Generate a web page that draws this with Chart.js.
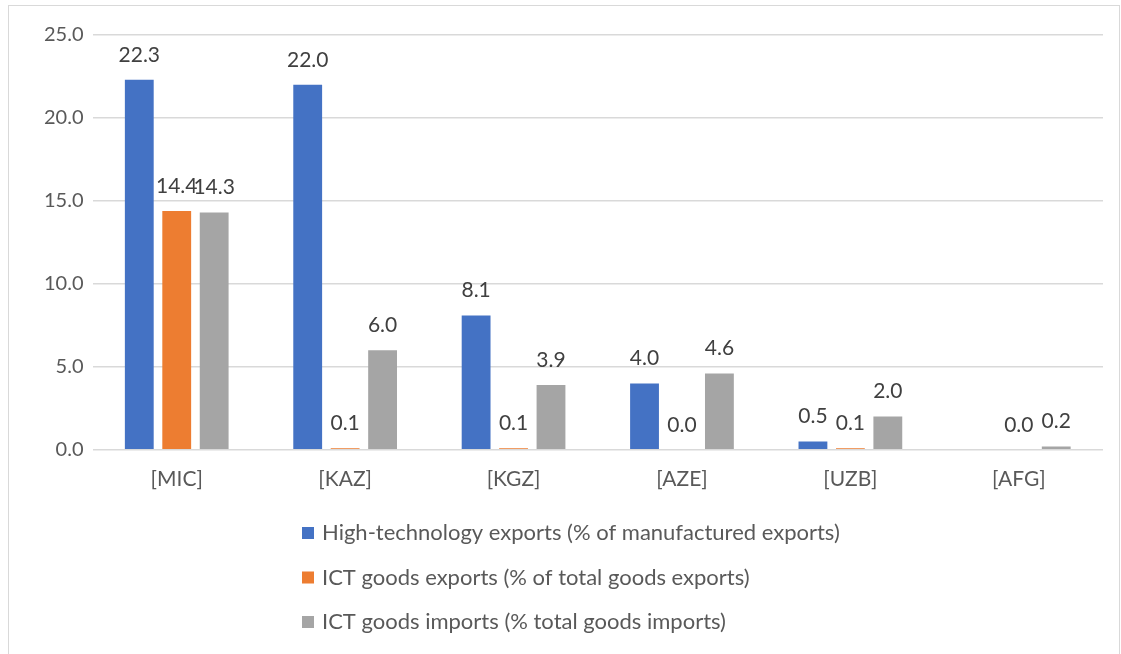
<!DOCTYPE html>
<html>
<head>
<meta charset="utf-8">
<script src="https://cdn.jsdelivr.net/npm/chart.js@4.4.1/dist/chart.umd.min.js"></script>
<style>
  body { margin: 0; background: #fff; }
  #frame { position: absolute; left: 8px; top: 5px; width: 1110px; height: 700px; border: 1px solid #d9d9d9; }
  #wrap { position: absolute; left: 0; top: 0; width: 1121px; height: 654px; }
</style>
</head>
<body>
<div id="frame"></div>
<div id="wrap"><canvas id="chart"></canvas></div>
<script>
/* data */
const categories = ["[MIC]", "[KAZ]", "[KGZ]", "[AZE]", "[UZB]", "[AFG]"];
const highTechExports = [22.3, 22.0, 8.1, 4.0, 0.5, null];
const ictExports = [14.4, 0.1, 0.1, 0.0, 0.1, 0.0];
const ictImports = [14.3, 6.0, 3.9, 4.6, 2.0, 0.2];
const yTicks = [0, 5, 10, 15, 20, 25];

const FONT = "Lato, 'Liberation Sans', sans-serif";
const TEXT = "#595959";

/* value labels above bars */
const valueLabels = {
  id: "valueLabels",
  afterDatasetsDraw(chart) {
    const ctx = chart.ctx;
    ctx.save();
    ctx.font = "21px " + FONT;
    ctx.fillStyle = "#404040";
    ctx.textAlign = "center";
    ctx.textBaseline = "middle";
    chart.data.datasets.forEach((ds, i) => {
      chart.getDatasetMeta(i).data.forEach((bar, j) => {
        const v = ds.data[j];
        if (v === null) return;
        ctx.fillText(v.toFixed(1), bar.x, bar.y - 25);
      });
    });
    ctx.restore();
  }
};

/* vertical legend under the chart */
const stackedLegend = {
  id: "stackedLegend",
  afterDraw(chart) {
    const ctx = chart.ctx;
    ctx.save();
    ctx.font = "22px " + FONT;
    ctx.textBaseline = "middle";
    chart.data.datasets.forEach((ds, i) => {
      const y = 533 + i * 44.5;
      ctx.fillStyle = ds.backgroundColor;
      ctx.fillRect(302, y - 6, 12, 12);
      ctx.fillStyle = TEXT;
      ctx.fillText(ds.label, 322, y);
    });
    ctx.restore();
  }
};

new Chart(document.getElementById("chart"), {
  type: "bar",
  data: {
    labels: categories,
    datasets: [
      { label: "High-technology exports (% of manufactured exports)", data: highTechExports, backgroundColor: "#4472C4" },
      { label: "ICT goods exports (% of total goods exports)", data: ictExports, backgroundColor: "#ED7D31" },
      { label: "ICT goods imports (% total goods imports)", data: ictImports, backgroundColor: "#A5A5A5" }
    ]
  },
  options: {
    responsive: true,
    maintainAspectRatio: false,
    animation: false,
    categoryPercentage: 0.667,
    barPercentage: 0.77,
    layout: { padding: { left: 35, right: 18, top: 35, bottom: 153 } },
    plugins: { legend: { display: false }, tooltip: { enabled: false } },
    scales: {
      x: {
        grid: { display: false },
        border: { display: false },
        ticks: { color: TEXT, font: { family: FONT, size: 21 }, padding: 9 }
      },
      y: {
        min: 0,
        max: 25,
        afterBuildTicks(axis) { axis.ticks = yTicks.map(v => ({ value: v })); },
        grid: { color: "#d9d9d9", lineWidth: 1.5, drawTicks: false },
        border: { display: false },
        ticks: {
          color: TEXT,
          font: { family: FONT, size: 20 },
          padding: 9,
          callback: v => v.toFixed(1)
        }
      }
    }
  },
  plugins: [valueLabels, stackedLegend]
});
</script>
</body>
</html>
